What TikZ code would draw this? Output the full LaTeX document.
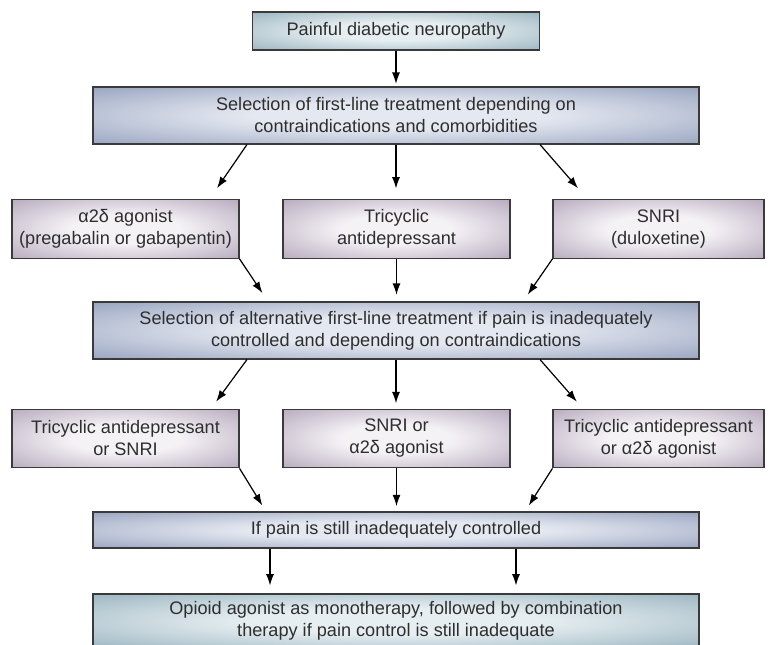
\documentclass[tikz,border=0pt]{standalone}
\usepackage{fontspec}
\setmainfont{Liberation Sans}
\usetikzlibrary{arrows.meta,calc}

\definecolor{ink}{HTML}{2E2E2E}
\definecolor{frame}{HTML}{3A3A3A}
\definecolor{tealedge}{HTML}{82A2B0}
\definecolor{tealcore}{HTML}{E6EEF1}
\definecolor{steeledge}{HTML}{7E8DB0}
\definecolor{steelcore}{HTML}{E4E8F0}
\definecolor{mauveedge}{HTML}{A293AB}
\definecolor{mauvecore}{HTML}{F5F2F6}

\pgfdeclareradialshading{tealglow}{\pgfpoint{0bp}{0bp}}{color(0bp)=(tealcore); color(12bp)=(tealcore); color(44bp)=(tealedge); color(50bp)=(tealedge)}
\pgfdeclareradialshading{steelglow}{\pgfpoint{0bp}{0bp}}{color(0bp)=(steelcore); color(12bp)=(steelcore); color(44bp)=(steeledge); color(50bp)=(steeledge)}
\pgfdeclareradialshading{mauveglow}{\pgfpoint{0bp}{0bp}}{color(0bp)=(mauvecore); color(12bp)=(mauvecore); color(44bp)=(mauveedge); color(50bp)=(mauveedge)}

\begin{document}
\begin{tikzpicture}[x=0.75pt,y=-0.75pt,font=\fontsize{13.6}{16.5}\selectfont,every node/.style={text=ink}]
  \useasboundingbox (0,0) rectangle (769,644);
  \clip (0,0) rectangle (769,644);

  \tikzset{
    card/.style={rectangle,draw=frame,line width=0.8pt,inner sep=0pt,align=center},
    tealcard/.style={card,shading=tealglow},
    steelcard/.style={card,shading=steelglow,minimum width=454.5pt,minimum height=42.75pt},
    mauvecard/.style={card,shading=mauveglow,minimum width=170.25pt,minimum height=44pt},
    arr/.style={line width=0.9pt,-{Latex[length=8.5pt,width=6pt]}}
  }

  % Starting point and the first choice of drug.
  \node[tealcard,minimum width=215.25pt,minimum height=28.5pt] (pdn) at (396,31) {Painful diabetic neuropathy};
  \node[steelcard] (firstline) at (396,115.5) {Selection of first-line treatment depending on\\contraindications and comorbidities};
  \node[mauvecard] (alphaone) at (125.5,229) {α2δ agonist\\(pregabalin or gabapentin)};
  \node[mauvecard] (tricyclicone) at (396.5,229) {Tricyclic\\antidepressant};
  \node[mauvecard,minimum width=158.25pt] (snrione) at (658.5,229) {SNRI\\(duloxetine)};

  % Switching when the first drug fails.
  \node[steelcard] (altline) at (396,330.5) {Selection of alternative first-line treatment if pain is inadequately\\controlled and depending on contraindications};
  \node[mauvecard] (tcasnri) at (125.5,438.5) {Tricyclic antidepressant\\or SNRI};
  \node[mauvecard] (snrialpha) at (396.5,438.5) {SNRI or\\α2δ agonist};
  \node[mauvecard,minimum width=158.25pt] (tcaalpha) at (658.5,438.5) {Tricyclic antidepressant\\or α2δ agonist};

  % Last resort; the bottom box runs off the page edge.
  \node[steelcard,minimum height=27pt] (stillpain) at (396,530) {If pain is still inadequately controlled};
  \node[tealcard,minimum width=454.5pt,minimum height=40.5pt] (opioid) at (396,621) {Opioid agonist as monotherapy, followed by combination\\therapy if pain control is still inadequate};

  \draw[arr,shorten >=2pt] (pdn.south) -- (pdn.south |- firstline.north);
  \draw[arr,shorten >=10pt] ($(firstline.south)+(-149,0)$) -- ($(alphaone.north)+(84,0)$);
  \draw[arr,shorten >=8pt] (firstline.south) -- (firstline.south |- tricyclicone.north);
  \draw[arr,shorten >=10.8pt] ($(firstline.south)+(144,0)$) -- ($(snrione.north)+(-71,0)$);

  \draw[arr,shorten >=7.6pt] (alphaone.south east) -- ($(altline.north)+(-128,0)$);
  \draw[arr,shorten >=5pt] (tricyclicone.south) -- (tricyclicone.south |- altline.north);
  \draw[arr,shorten >=6.3pt] (snrione.south west) -- ($(altline.north)+(127,0)$);

  \draw[arr,shorten >=6.5pt] ($(altline.south)+(-149,0)$) -- ($(tcasnri.north)+(85.5,0)$);
  \draw[arr,shorten >=4pt] (altline.south) -- (altline.south |- snrialpha.north);
  \draw[arr,shorten >=7pt] ($(altline.south)+(144,0)$) -- ($(tcaalpha.north)+(-75.5,0)$);

  \draw[arr,shorten >=5.3pt] (tcasnri.south east) -- ($(stillpain.north)+(-130,0)$);
  \draw[arr,shorten >=4pt] (snrialpha.south) -- (snrialpha.south |- stillpain.north);
  \draw[arr,shorten >=5.3pt] (tcaalpha.south west) -- ($(stillpain.north)+(129,0)$);

  \draw[arr,shorten >=6pt] ($(stillpain.south)+(-126,0)$) -- ($(opioid.north)+(-126,0)$);
  \draw[arr,shorten >=6pt] ($(stillpain.south)+(120,0)$) -- ($(opioid.north)+(120,0)$);
\end{tikzpicture}
\end{document}
